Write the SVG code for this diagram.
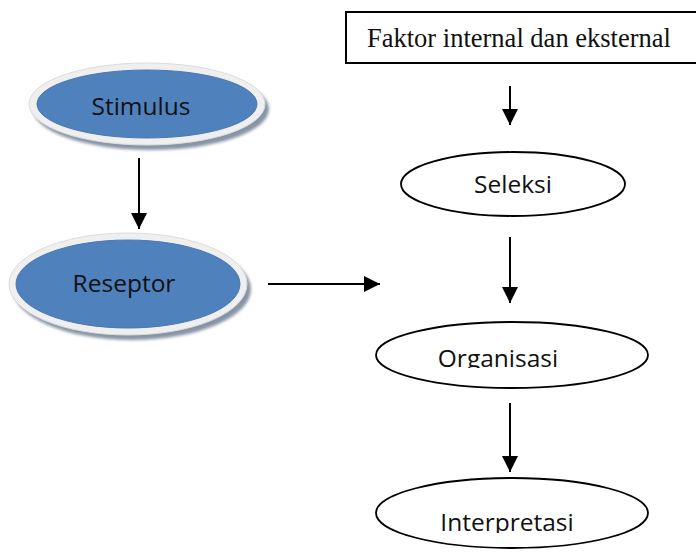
<svg xmlns="http://www.w3.org/2000/svg" width="696" height="552" viewBox="0 0 696 552">
  <style>
    .lbl { font-family: "Open Sans", "Liberation Sans", Arial, sans-serif; font-size: 24.5px; fill: #111; text-anchor: middle; }
    .serif { font-family: "Liberation Serif", "Times New Roman", serif; font-size: 26.5px; fill: #111; }
    .plain { fill: #fff; stroke: #000; stroke-width: 1.8; }
    .ring { fill: #efefef; stroke: #dcdcdc; stroke-width: 1; }
    .blue { fill: #4f81bd; stroke: #4a78b0; stroke-width: 1; }
    .shadow { fill: #8794a6; filter: url(#soft); }
    .conn { stroke: #000; stroke-width: 2; fill: none; marker-end: url(#head); }
  </style>
  <defs>
    <marker id="head" markerUnits="userSpaceOnUse" markerWidth="16" markerHeight="16" viewBox="0 0 16 16" refX="16" refY="8" orient="auto">
      <path d="M0,0 L16,8 L0,16 Z" fill="#000"/>
    </marker>
    <filter id="soft" x="-10%" y="-20%" width="120%" height="140%">
      <feGaussianBlur stdDeviation="1.5"/>
    </filter>
    <clipPath id="clipOrg"><rect x="370" y="320" width="290" height="48"/></clipPath>
    <clipPath id="clipInt"><rect x="370" y="480" width="290" height="53"/></clipPath>
  </defs>
  <rect width="696" height="552" fill="#fff"/>

  <!-- connectors -->
  <g id="connectors">
    <line class="conn" x1="510" y1="86" x2="510" y2="125"/>
    <line class="conn" x1="510" y1="237" x2="510" y2="303"/>
    <line class="conn" x1="510" y1="403" x2="510" y2="472"/>
    <line class="conn" x1="139" y1="158" x2="139" y2="229"/>
    <line class="conn" x1="268" y1="284" x2="380" y2="284"/>
  </g>

  <g id="faktor">
    <rect x="346" y="12" width="360" height="51" fill="#fff" stroke="#000" stroke-width="2"/>
    <text class="serif" x="367" y="47">Faktor internal dan eksternal</text>
  </g>

  <g id="stimulus">
    <ellipse class="shadow" cx="151" cy="109" rx="118" ry="41"/>
    <ellipse class="ring" cx="147" cy="104" rx="118" ry="41"/>
    <ellipse class="blue" cx="147" cy="104" rx="110" ry="34"/>
    <text class="lbl" x="141" y="115">Stimulus</text>
  </g>

  <g id="reseptor">
    <ellipse class="shadow" cx="132" cy="289" rx="119" ry="51"/>
    <ellipse class="ring" cx="128" cy="284" rx="119" ry="51"/>
    <ellipse class="blue" cx="128" cy="284" rx="112" ry="44"/>
    <text class="lbl" x="124" y="292">Reseptor</text>
  </g>

  <g id="seleksi">
    <ellipse class="plain" cx="513" cy="184" rx="112" ry="32"/>
    <text class="lbl" x="513" y="193">Seleksi</text>
  </g>

  <g id="organisasi">
    <ellipse class="plain" cx="512" cy="355" rx="136" ry="33"/>
    <text class="lbl" x="498" y="367" clip-path="url(#clipOrg)">Organisasi</text>
  </g>

  <g id="interpretasi">
    <ellipse class="plain" cx="512" cy="513" rx="136" ry="35"/>
    <text class="lbl" x="507" y="531" clip-path="url(#clipInt)">Interpretasi</text>
  </g>
</svg>
